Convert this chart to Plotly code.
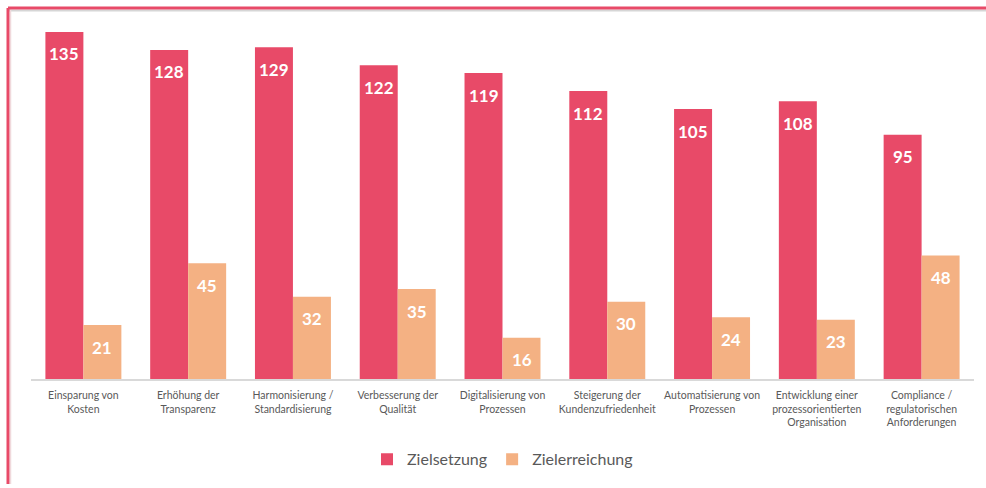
import plotly.graph_objects as go

categories = [
    "Einsparung von<br>Kosten",
    "Erhöhung der<br>Transparenz",
    "Harmonisierung /<br>Standardisierung",
    "Verbesserung der<br>Qualität",
    "Digitalisierung von<br>Prozessen",
    "Steigerung der<br>Kundenzufriedenheit",
    "Automatisierung von<br>Prozessen",
    "Entwicklung einer<br>prozessorientierten<br>Organisation",
    "Compliance /<br>regulatorischen<br>Anforderungen",
]
zielsetzung = [135, 128, 129, 122, 119, 112, 105, 108, 95]
zielerreichung = [21, 45, 32, 35, 16, 30, 24, 23, 48]

RED = "#E84A68"
ORANGE = "#F4B183"
FONT = "Lato"

fig = go.Figure()
fig.add_trace(go.Bar(name="Zielsetzung", x=categories, y=zielsetzung,
                     marker=dict(color=RED, line=dict(width=0))))
fig.add_trace(go.Bar(name="Zielerreichung", x=categories, y=zielerreichung,
                     marker=dict(color=ORANGE, line=dict(width=0))))

annotations = []
for cat, a, b in zip(categories, zielsetzung, zielerreichung):
    for val, shift in ((a, -19), (b, 19)):
        annotations.append(dict(
            x=cat, y=val, xref="x", yref="y", text=f"<b>{val}</b>",
            showarrow=False, xshift=shift, yshift=-22, yanchor="middle",
            font=dict(family=FONT, size=17, color="white")))

W, H = 986, 488
L, T = 31, 20
R = W - 974
B = H - 382
pw, ph = W - L - R, H - T - B
left_x = (8 - L) / pw
top_y = 1 + (T - 8) / ph

shapes = [
    dict(type="line", xref="paper", yref="paper", x0=left_x, x1=1 + R / pw,
         y0=1 + (T - 10.5) / ph, y1=1 + (T - 10.5) / ph,
         line=dict(color="#d6d6d6", width=2)),
    dict(type="line", xref="paper", yref="paper", x0=(10.5 - L) / pw, x1=(10.5 - L) / pw,
         y0=-B / ph, y1=top_y, line=dict(color="#f0d9dc", width=1.5)),
    dict(type="line", xref="paper", yref="paper", x0=left_x, x1=1 + R / pw,
         y0=top_y, y1=top_y, line=dict(color=RED, width=3)),
    dict(type="line", xref="paper", yref="paper", x0=left_x, x1=left_x,
         y0=-B / ph, y1=top_y, line=dict(color=RED, width=3)),
]

fig.update_layout(
    width=W, height=H,
    margin=dict(l=L, r=R, t=T, b=B),
    paper_bgcolor="white", plot_bgcolor="white",
    barmode="group", bargap=0.275, bargroupgap=0,
    font=dict(family=FONT, color="#595959"),
    xaxis=dict(showline=True, linecolor="#d9d9d9", linewidth=1.5,
               tickfont=dict(family=FONT, size=10.5, color="#595959"),
               ticks="outside", ticklen=6, tickcolor="rgba(0,0,0,0)",
               tickangle=0, fixedrange=True),
    yaxis=dict(range=[0, ph / (350 / 135)], visible=False, showgrid=False,
               fixedrange=True),
    legend=dict(orientation="h", x=0.5, xanchor="center", y=(382 - 463) / ph,
                yanchor="middle", font=dict(family=FONT, size=16, color="#595959"),
                itemwidth=30, traceorder="normal"),
    showlegend=True,
    hovermode=False,
    annotations=annotations,
    shapes=shapes,
)

fig.write_html(
    "out.html",
    config={"displayModeBar": False, "staticPlot": True},
    post_script="document.body.style.margin='0';document.body.style.overflow='hidden';",
)
